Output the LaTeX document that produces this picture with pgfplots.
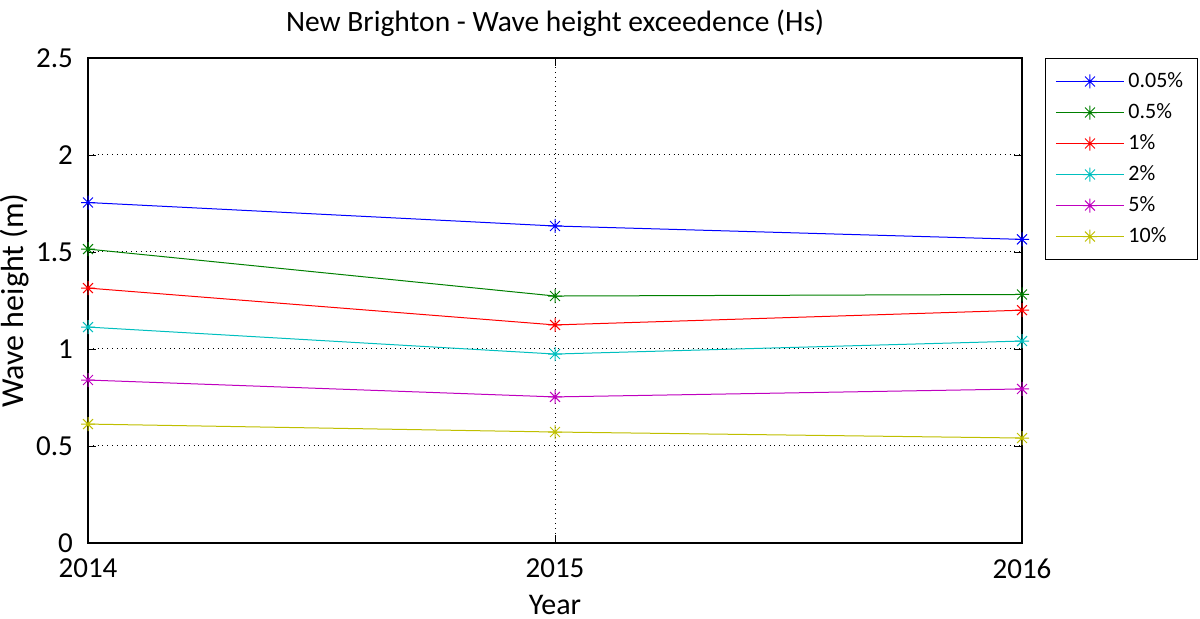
\documentclass[border=0pt]{standalone}
\usepackage{pgfplots}
\pgfplotsset{compat=1.18}
\usepackage{fontspec}
\setmainfont{Carlito}
\definecolor{mgreen}{rgb}{0,0.5,0}
\definecolor{mcyan}{rgb}{0,0.75,0.75}
\definecolor{mmag}{rgb}{0.75,0,0.75}
\definecolor{myel}{rgb}{0.75,0.75,0}
\pgfdeclareplotmark{mstar}{%
  \pgfpathmoveto{\pgfqpoint{0pt}{\pgfplotmarksize}}\pgfpathlineto{\pgfqpoint{0pt}{-\pgfplotmarksize}}%
  \pgfpathmoveto{\pgfqpoint{\pgfplotmarksize}{0pt}}\pgfpathlineto{\pgfqpoint{-\pgfplotmarksize}{0pt}}%
  \pgfpathmoveto{\pgfqpoint{0.707\pgfplotmarksize}{0.707\pgfplotmarksize}}\pgfpathlineto{\pgfqpoint{-0.707\pgfplotmarksize}{-0.707\pgfplotmarksize}}%
  \pgfpathmoveto{\pgfqpoint{0.707\pgfplotmarksize}{-0.707\pgfplotmarksize}}\pgfpathlineto{\pgfqpoint{-0.707\pgfplotmarksize}{0.707\pgfplotmarksize}}%
  \pgfusepathqstroke}
\begin{document}
\begin{tikzpicture}
\begin{axis}[
  at={(44pt,38pt)}, anchor=south west,
  scale only axis, width=467pt, height=242.5pt,
  xmin=2014, xmax=2016, ymin=0, ymax=2.5,
  xtick={2014,2015,2016}, xticklabels={2014,2015,2016},
  ytick={0,0.5,1,1.5,2,2.5}, yticklabels={0,0.5,1,1.5,2,2.5},
  tick align=inside, major tick length=4pt,
  tick style={black, line width=0.4pt},
  grid=major, grid style={dotted, black, line width=0.5pt},
  axis line style={black, line width=0.6pt},
  ticklabel style={font=\fontsize{14.5pt}{16pt}\selectfont},
  /pgf/number format/assume math mode=true,
  xticklabel style={yshift=-4.5pt},
  yticklabel style={xshift=-4pt},
  xlabel={Year}, ylabel={Wave height (m)},
  label style={font=\fontsize{15pt}{17pt}\selectfont},
  ylabel style={font=\fontsize{16pt}{18pt}\selectfont, yshift=-3.5pt},
  xlabel style={yshift=-1.5pt},
  title={New Brighton - Wave height exceedence (Hs)},
  title style={font=\fontsize{14.75pt}{16pt}\selectfont, yshift=1pt},
  legend style={at={(1.0246,1)}, anchor=north west, draw=black, line width=0.5pt,
    font=\fontsize{11pt}{13pt}\selectfont, row sep=2.5pt, inner xsep=5pt, inner ysep=5pt,
    legend cell align=left},
  legend image code/.code={\draw[mark repeat=2, mark phase=2] plot coordinates {(0pt,0pt) (17pt,0pt) (34pt,0pt)};},
  every axis plot/.append style={line width=0.5pt, mark=mstar, mark size=3.5pt},
]
\addplot[blue] coordinates {(2014,1.755) (2015,1.634) (2016,1.565)};
\addplot[mgreen] coordinates {(2014,1.515) (2015,1.273) (2016,1.281)};
\addplot[red] coordinates {(2014,1.314) (2015,1.124) (2016,1.200)};
\addplot[mcyan] coordinates {(2014,1.113) (2015,0.974) (2016,1.041)};
\addplot[mmag] coordinates {(2014,0.840) (2015,0.753) (2016,0.794)};
\addplot[myel] coordinates {(2014,0.613) (2015,0.572) (2016,0.541)};
\legend{0.05\%,0.5\%,1\%,2\%,5\%,10\%}
\end{axis}
\pgfresetboundingbox
\useasboundingbox (0,0) rectangle (600pt,309.5pt);
\end{tikzpicture}
\end{document}
